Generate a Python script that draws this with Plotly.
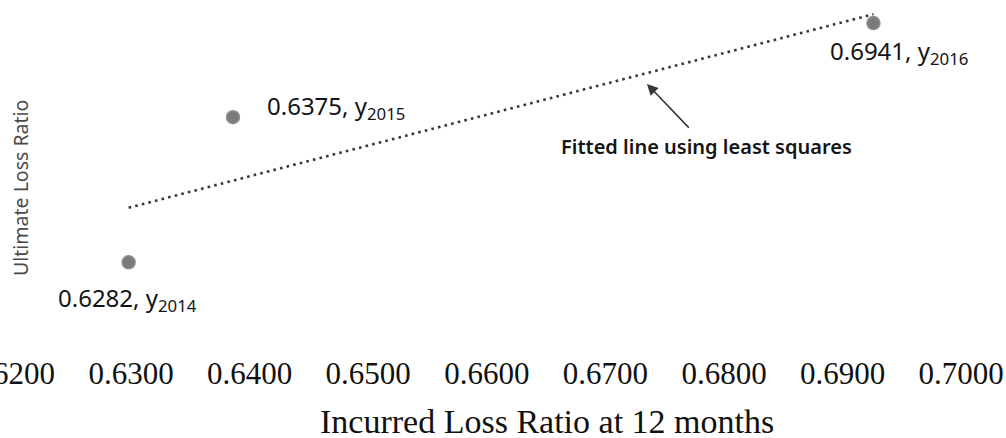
import numpy as np
import plotly.graph_objects as go

# Data
years = ["2014", "2015", "2016"]
incurred_12m = [0.6298, 0.6386, 0.6926]      # x positions of the points on the axis
ultimate_lr = [0.641, 0.729, 0.786]           # y positions (no y scale shown)
label_values = ["0.6282", "0.6375", "0.6941"]
tick_vals = [0.62, 0.63, 0.64, 0.65, 0.66, 0.67, 0.68, 0.69, 0.70]
tick_text = ["0.6200", "0.6300", "0.6400", "0.6500", "0.6600",
             "0.6700", "0.6800", "0.6900", "0.7000"]

x = np.array(incurred_12m)
y = np.array(ultimate_lr)
slope, intercept = np.polyfit(x, y, 1)
fit_x = np.array([x.min(), x.max()])
fit_y = slope * fit_x + intercept

fig = go.Figure()
fig.add_trace(go.Scatter(
    x=fit_x, y=fit_y, mode="lines",
    line=dict(color="#383838", width=2.6, dash="2.6px,4.2px"),
    hoverinfo="skip", showlegend=False))
fig.add_trace(go.Scatter(
    x=x, y=y, mode="markers",
    marker=dict(color="#7b7b7b", size=13, line=dict(width=1.5, color="#909090")),
    showlegend=False))

lab_font = dict(family="Noto Sans", size=24, color="#141414")
shifts = [  # (xanchor, xshift, yshift)
    ("center", -1, -37),
    ("left", 32, 10),
    ("left", -45, -29),
]
for xi, yi, yr, v, (xa, xs, ys) in zip(x, y, years, label_values, shifts):
    fig.add_annotation(x=xi, y=yi, text=f"{v}, y<sub>{yr}</sub>",
                       showarrow=False, xanchor=xa, yanchor="middle",
                       xshift=xs, yshift=ys, font=lab_font)

# arrow pointing at the fitted line
xp = 0.6728
fig.add_annotation(
    x=xp, y=slope * xp + intercept,
    text="Fitted line using least squares",
    showarrow=True, arrowhead=2, arrowsize=1.4, arrowwidth=1.6,
    arrowcolor="#383838", standoff=12, startstandoff=5,
    ax=68, ay=71,
    font=dict(family="Noto Sans", size=20, color="#141414", weight=600))

# y label
fig.add_annotation(
    xref="paper", yref="paper", x=20 / 1006, y=1 - 188 / 330,
    text="Ultimate Loss Ratio", textangle=-90, showarrow=False,
    xanchor="center", yanchor="middle",
    font=dict(family="Noto Sans", size=19.5, color="#4a4a4a"))

# x label
fig.add_annotation(
    xref="paper", yref="paper", x=547 / 1006, y=-(421 - 330) / 330,
    text="Incurred Loss Ratio at 12 months", showarrow=False,
    xanchor="center", yanchor="middle",
    font=dict(family="Liberation Serif", size=34, color="#111111"))

px_per_unit = 11860.0
x0 = 0.62 - 12.4 / px_per_unit
x1 = 0.62 + (1006 - 12.4) / px_per_unit

fig.update_layout(
    width=1006, height=438,
    margin=dict(l=0, r=0, t=0, b=108, autoexpand=False),
    paper_bgcolor="white", plot_bgcolor="white",
    xaxis=dict(range=[x0, x1], tickvals=tick_vals, ticktext=tick_text,
               showgrid=False, zeroline=False, showline=False, ticks="",
               automargin=False, ticklabeloverflow="allow",
               tickfont=dict(family="Liberation Serif", size=31, color="#111111"),
               ticklabelstandoff=22),
    yaxis=dict(range=[0.60, 0.80], showgrid=False, zeroline=False,
               showline=False, showticklabels=False, ticks="",
               automargin=False),
)

fig.write_html("out.html",
               config={"displayModeBar": False},
               post_script="document.body.style.margin='0px';")
